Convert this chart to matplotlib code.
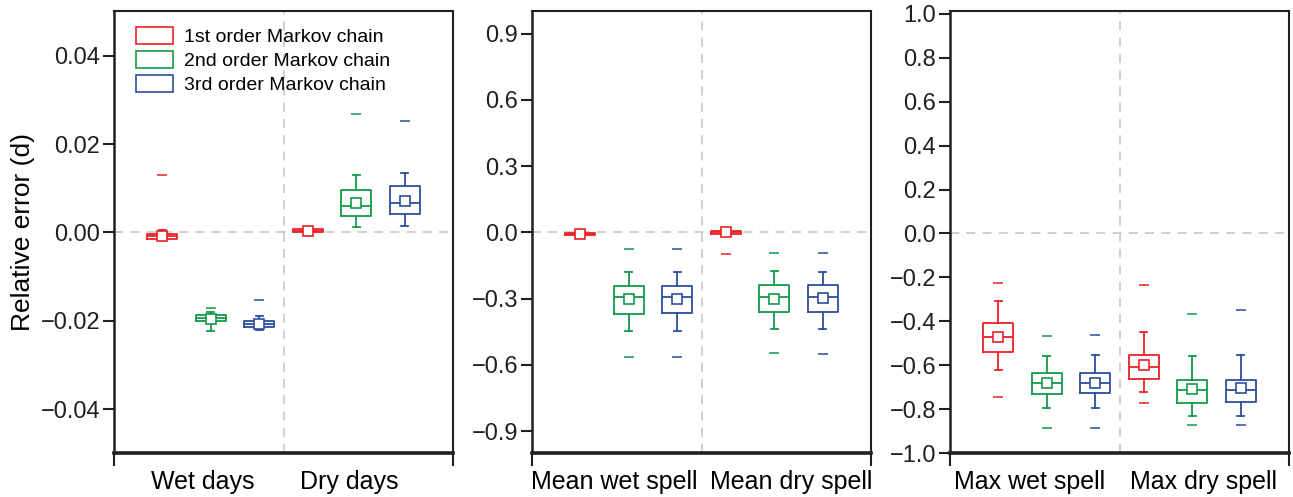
import matplotlib.pyplot as plt
from matplotlib.patches import Patch

plt.rcParams['font.family'] = ['Liberation Sans', 'DejaVu Sans']

orders = ['1st order Markov chain', '2nd order Markov chain', '3rd order Markov chain']
colors = ['#ec2127', '#13994a', '#2b4e9e']
groups = [['Wet days', 'Dry days'],
          ['Mean wet spell', 'Mean dry spell'],
          ['Max wet spell', 'Max dry spell']]

# box order per panel: red/green/blue for first group, then red/green/blue for second
# panel 1 : wet / dry days
p1_whislo = [-0.0018, -0.0224, -0.0222, -0.0002, 0.0012, 0.0014]
p1_q1 = [-0.0016, -0.0201, -0.0213, 0.0001, 0.0038, 0.0041]
p1_med = [-0.0009, -0.0194, -0.0207, 0.0004, 0.0059, 0.0066]
p1_q3 = [-0.0003, -0.0186, -0.0200, 0.0007, 0.0097, 0.0105]
p1_whishi = [0.0005, -0.0180, -0.0190, 0.0013, 0.0129, 0.0134]
p1_mean = [-0.0008, -0.0195, -0.0207, 0.0004, 0.0067, 0.0072]
p1_fliers = [[0.013], [-0.0171], [-0.0154], [], [0.0267], [0.0251]]

# panel 2 : mean spells
p2_whislo = [-0.015, -0.448, -0.448, -0.008, -0.439, -0.439]
p2_q1 = [-0.012, -0.368, -0.366, -0.005, -0.362, -0.362]
p2_med = [-0.007, -0.294, -0.294, 0.000, -0.291, -0.291]
p2_q3 = [-0.003, -0.243, -0.243, 0.005, -0.238, -0.238]
p2_whishi = [-0.001, -0.180, -0.180, 0.008, -0.176, -0.181]
p2_mean = [-0.007, -0.303, -0.303, 0.000, -0.300, -0.296]
p2_fliers = [[-0.027], [-0.074, -0.564], [-0.074, -0.564],
             [-0.100], [-0.094, -0.546], [-0.094, -0.552]]

# panel 3 : max spells
p3_whislo = [-0.623, -0.794, -0.794, -0.719, -0.830, -0.828]
p3_q1 = [-0.540, -0.731, -0.727, -0.662, -0.770, -0.767]
p3_med = [-0.471, -0.680, -0.678, -0.608, -0.713, -0.713]
p3_q3 = [-0.408, -0.633, -0.633, -0.552, -0.665, -0.665]
p3_whishi = [-0.305, -0.558, -0.555, -0.447, -0.557, -0.555]
p3_mean = [-0.471, -0.680, -0.678, -0.600, -0.707, -0.705]
p3_fliers = [[-0.227, -0.743], [-0.467, -0.887], [-0.461, -0.887],
             [-0.234, -0.771], [-0.365, -0.869], [-0.350, -0.869]]

panels = [
    (p1_whislo, p1_q1, p1_med, p1_q3, p1_whishi, p1_mean, p1_fliers),
    (p2_whislo, p2_q1, p2_med, p2_q3, p2_whishi, p2_mean, p2_fliers),
    (p3_whislo, p3_q1, p3_med, p3_q3, p3_whishi, p3_mean, p3_fliers),
]
ylims = [(-0.05, 0.05), (-1.0, 1.0), (-1.0, 1.01)]
yticks = [[-0.04, -0.02, 0.0, 0.02, 0.04],
          [-0.9, -0.6, -0.3, 0.0, 0.3, 0.6, 0.9],
          [-1.0, -0.8, -0.6, -0.4, -0.2, 0.0, 0.2, 0.4, 0.6, 0.8, 1.0]]
yfmt = ['{:.2f}', '{:.1f}', '{:.1f}']
# where the group names sit under each panel (x in box units)
label_x = [[1.84, 4.86], [1.69, 5.36], [1.65, 5.23]]

fig = plt.figure(figsize=(12.93, 4.97), dpi=100)
lefts = [114 / 1293, 532 / 1293, 950 / 1293]
positions = [1, 2, 3, 4, 5, 6]
spine_col = '#231f20'

axes = []
for k, (wlo, q1, med, q3, whi, mn, fl) in enumerate(panels):
    ax = fig.add_axes([lefts[k], 0.0879, 0.2622, 0.889])
    axes.append(ax)
    ax.axhline(0, color='#cccccc', lw=1.3, ls=(0, (5, 4)), zorder=0)
    ax.axvline(3.5, color='#cccccc', lw=1.3, ls=(0, (5, 4)), zorder=0)
    for i in range(6):
        c = colors[i % 3]
        stats = [dict(whislo=wlo[i], q1=q1[i], med=med[i], q3=q3[i],
                      whishi=whi[i], mean=mn[i], fliers=fl[i])]
        ax.bxp(stats, positions=[positions[i]], widths=0.62, capwidths=0.14,
               showmeans=True, showfliers=True, manage_ticks=False,
               boxprops=dict(color=c, lw=1.3),
               medianprops=dict(color=c, lw=1.3),
               whiskerprops=dict(color=c, lw=1.3),
               capprops=dict(color=c, lw=1.3),
               flierprops=dict(marker='_', markersize=7, markeredgecolor=c,
                               markeredgewidth=1.3, alpha=0.85),
               meanprops=dict(marker='s', markersize=6.5, markerfacecolor='white',
                              markeredgecolor=c, markeredgewidth=1.2))
    ax.set_xlim(0, 7)
    ax.set_ylim(*ylims[k])
    ax.set_yticks(yticks[k])
    ax.set_yticklabels([yfmt[k].format(v).replace('-', '\u2212') for v in yticks[k]])
    ax.set_xticks([0, 7])
    ax.set_xticklabels(['', ''])
    ax.set_xticks(label_x[k], minor=True)
    ax.set_xticklabels(groups[k], minor=True)
    ax.tick_params(axis='x', which='minor', length=0, pad=12, labelsize=18)
    ax.tick_params(axis='x', which='major', length=9, width=1.5, colors=spine_col)
    ax.tick_params(axis='y', length=8, width=1.5, pad=2, labelsize=17,
                   colors=spine_col, labelcolor='#231f20')
    for s in ['top', 'right']:
        ax.spines[s].set_linewidth(1.5)
        ax.spines[s].set_color(spine_col)
    ax.spines['left'].set_linewidth(1.8)
    ax.spines['left'].set_color(spine_col)
    ax.spines['bottom'].set_linewidth(2.6)
    ax.spines['bottom'].set_color(spine_col)

axes[0].set_ylabel('Relative error (d)', fontsize=19, labelpad=4)

handles = [Patch(facecolor='white', edgecolor=c, lw=1.2) for c in colors]
axes[0].legend(handles, orders, loc='upper left', bbox_to_anchor=(0.065, 0.965),
               frameon=False, fontsize=14, handlelength=1.9, handleheight=0.95,
               handletextpad=0.55, labelspacing=0.25, borderpad=0, borderaxespad=0)

fig.savefig('out.png', dpi=100)
